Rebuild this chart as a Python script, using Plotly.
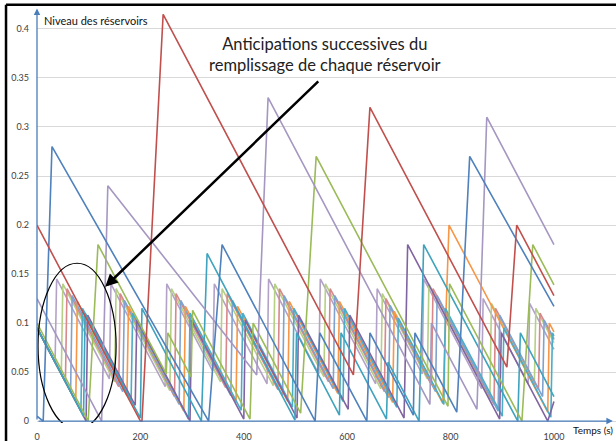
import plotly.graph_objects as go

# ---- data: reservoir levels (time in s, level) ----
s1_t = [0, 35, 38, 140, 143, 248, 251, 340, 343, 445, 448, 545, 548, 655, 658, 745, 748, 860, 863, 950, 953, 1000]
s1_v = [0.095, 0.060, 0.145, 0.043, 0.140, 0.035, 0.140, 0.051, 0.140, 0.038, 0.145, 0.048, 0.145, 0.038, 0.135, 0.048, 0.145, 0.033, 0.125, 0.038, 0.120, 0.073]

s2_t = [0, 47, 50, 150, 153, 257, 260, 355, 358, 457, 460, 555, 558, 665, 668, 755, 758, 876, 879, 962, 965, 1000]
s2_v = [0.095, 0.048, 0.140, 0.040, 0.135, 0.031, 0.135, 0.040, 0.135, 0.036, 0.140, 0.045, 0.140, 0.033, 0.130, 0.043, 0.140, 0.022, 0.120, 0.037, 0.115, 0.080]

s3_t = [0, 55, 58, 158, 161, 266, 269, 365, 368, 466, 469, 564, 567, 672, 675, 763, 766, 884, 887, 970, 973, 1000]
s3_v = [0.095, 0.040, 0.135, 0.035, 0.130, 0.025, 0.130, 0.034, 0.130, 0.032, 0.135, 0.040, 0.135, 0.030, 0.125, 0.037, 0.135, 0.017, 0.115, 0.032, 0.110, 0.083]

s4_t = [0, 65, 68, 166, 169, 275, 278, 375, 378, 475, 478, 573, 576, 680, 683, 771, 774, 892, 895, 978, 981, 1000]
s4_v = [0.095, 0.030, 0.128, 0.030, 0.123, 0.017, 0.123, 0.026, 0.123, 0.026, 0.128, 0.033, 0.128, 0.024, 0.118, 0.030, 0.128, 0.010, 0.108, 0.025, 0.103, 0.084]

s5_t = [0, 75, 78, 174, 177, 284, 287, 385, 388, 485, 488, 582, 585, 688, 691, 785, 797, 988, 991, 1000]
s5_v = [0.095, 0.020, 0.122, 0.026, 0.117, 0.010, 0.117, 0.019, 0.117, 0.020, 0.122, 0.028, 0.122, 0.019, 0.112, 0.018, 0.200, 0.009, 0.100, 0.091]

s6_t = [0, 85, 88, 182, 185, 293, 296, 395, 398, 494, 497, 592, 595, 696, 699, 787, 790, 900, 903, 994, 997, 1000]
s6_v = [0.095, 0.010, 0.115, 0.021, 0.110, 0.002, 0.110, 0.011, 0.110, 0.014, 0.115, 0.020, 0.115, 0.014, 0.105, 0.017, 0.115, 0.005, 0.095, 0.004, 0.090, 0.087]

s7_t = [0, 95, 98, 190, 193, 296, 299, 400, 403, 503, 506, 602, 605, 710, 717, 895, 898, 988, 1000]
s7_v = [0.095, 0.000, 0.108, 0.016, 0.103, 0.000, 0.103, 0.002, 0.103, 0.003, 0.108, 0.012, 0.108, 0.003, 0.180, 0.002, 0.090, 0.000, 0.020]

cyan2_t = [0, 90, 93, 200, 203, 318, 329, 499, 502, 585, 588, 676, 679, 739, 748, 930, 935, 1000]
cyan2_v = [0.095, 0.005, 0.110, 0.003, 0.115, 0.000, 0.171, 0.001, 0.090, 0.006, 0.090, 0.002, 0.060, 0.000, 0.180, 0.000, 0.090, 0.025]

green_t = [0, 99, 118, 250, 253, 298, 301, 412, 418, 510, 540, 795, 798, 938, 959, 1000]
green_v = [0.100, 0.000, 0.180, 0.048, 0.090, 0.045, 0.113, 0.002, 0.100, 0.008, 0.270, 0.015, 0.140, 0.000, 0.180, 0.139]

lav_t = [0, 125, 137, 425, 447, 760, 763, 851, 870, 1000]
lav_v = [0.125, 0.000, 0.240, 0.047, 0.330, 0.017, 0.100, 0.012, 0.310, 0.180]

blue_t = [0, 12, 29, 332, 358, 538, 547, 638, 644, 728, 731, 812, 837, 1000]
blue_v = [0.005, 0.000, 0.280, 0.000, 0.180, 0.000, 0.090, 0.000, 0.090, 0.006, 0.090, 0.009, 0.270, 0.117]

red_t = [0, 200, 203, 244, 612, 644, 909, 928, 1000]
red_v = [0.200, 0.000, 0.000, 0.415, 0.047, 0.320, 0.055, 0.200, 0.128]

x_ticks = [0, 200, 400, 600, 800, 1000]
y_ticks = [0, 0.05, 0.1, 0.15, 0.2, 0.25, 0.3, 0.35, 0.4]
y_ticktext = ["0", "0.05", "0.1", "0.15", "0.2", "0.25", "0.3", "0.35", "0.4"]

series = [
    (s1_t, s1_v, "#B3A2C7"),
    (s2_t, s2_v, "#B5CF84"),
    (s3_t, s3_v, "#D8878A"),
    (s4_t, s4_v, "#7FA2CF"),
    (s5_t, s5_v, "#F79646"),
    (s6_t, s6_v, "#4BACC6"),
    (s7_t, s7_v, "#8064A2"),
    (cyan2_t, cyan2_v, "#3FA3BD"),
    (green_t, green_v, "#9BBB59"),
    (lav_t, lav_v, "#A597C2"),
    (blue_t, blue_v, "#4F81BD"),
    (red_t, red_v, "#C0504D"),
]

fig = go.Figure()
for t, v, c in series:
    fig.add_trace(go.Scatter(x=t, y=v, mode="lines", line=dict(color=c, width=1.6),
                             hoverinfo="skip"))

FONT = "Lato, 'Open Sans', sans-serif"
fig.update_layout(
    width=616, height=441,
    margin=dict(l=37, r=0, t=8, b=18, autoexpand=False),
    plot_bgcolor="white", paper_bgcolor="white",
    showlegend=False,
    font=dict(family=FONT, size=9, color="#404040"),
    xaxis=dict(range=[0, 1120], tickvals=x_ticks, showgrid=False, zeroline=False,
               showline=False, ticks="", automargin=False, ticklabelstandoff=7,
               tickfont=dict(size=9, color="#404040")),
    yaxis=dict(range=[-0.002, 0.4214], tickvals=y_ticks, ticktext=y_ticktext,
               showgrid=True, gridcolor="#D9D9D9", gridwidth=1.2, zeroline=False,
               showline=False, ticks="", automargin=False, ticklabelstandoff=7,
               tickfont=dict(size=9, color="#404040")),
)

# axis lines with arrows
fig.add_annotation(x=1114, y=0, ax=0, ay=0, xref="x", yref="y", axref="x", ayref="y",
                   text="", showarrow=True, arrowhead=2, arrowsize=1, arrowwidth=1.3,
                   arrowcolor="#4A7EBB")
fig.add_annotation(x=0, y=0.421, ax=0, ay=0, xref="x", yref="y", axref="x", ayref="y",
                   text="", showarrow=True, arrowhead=2, arrowsize=1, arrowwidth=1.3,
                   arrowcolor="#4A7EBB")

# axis titles
fig.add_annotation(x=10, y=0.409, xref="x", yref="y", xanchor="left", yanchor="middle",
                   text="Niveau des réservoirs", showarrow=False,
                   font=dict(size=11, color="#111111", family=FONT))
fig.add_annotation(x=0.999, y=-0.018, xref="paper", yref="paper", xanchor="right", yanchor="middle",
                   text="Temps (s)", showarrow=False,
                   font=dict(size=10, color="#111111", family=FONT))

# comment text and arrow
fig.add_annotation(x=557, y=0.3735, xref="x", yref="y", xanchor="center", yanchor="middle",
                   text="Anticipations successives du<br>remplissage de chaque réservoir",
                   showarrow=False, font=dict(size=16.5, color="#222222", family=FONT))
fig.add_annotation(x=132, y=0.137, ax=547, ay=0.348, xref="x", yref="y", axref="x", ayref="y",
                   text="", showarrow=True, arrowhead=2, arrowsize=1, arrowwidth=2.5,
                   arrowcolor="black")

# ellipse around the first anticipations
fig.add_shape(type="circle", xref="x", yref="y", x0=2, x1=153, y0=-0.008, y1=0.161,
              line=dict(color="black", width=1.2))

# screenshot frame (top and left black borders)
fig.add_shape(type="line", xref="paper", yref="paper", x0=-0.0535, x1=-0.0535,
              y0=-0.05, y1=1.008, line=dict(color="black", width=2.5))
fig.add_shape(type="line", xref="paper", yref="paper", x0=-0.0535, x1=1.0,
              y0=1.008, y1=1.008, line=dict(color="black", width=2.5))

fig.write_html("out.html", config={"displayModeBar": False},
               post_script="document.body.style.margin='0px';document.body.style.overflow='hidden';")
